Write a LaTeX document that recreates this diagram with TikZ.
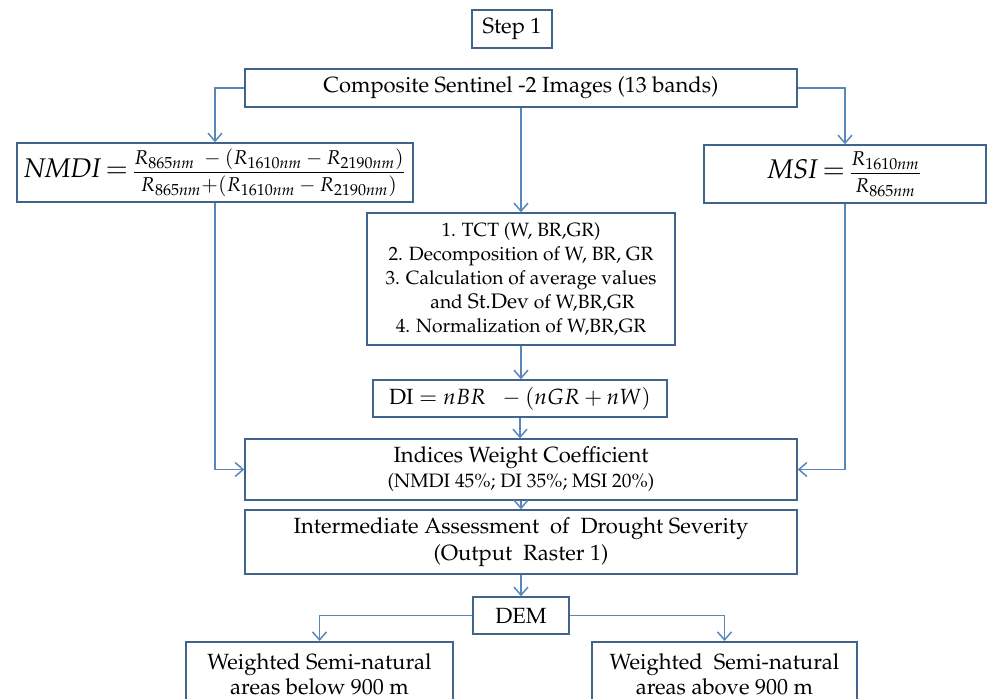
\documentclass[tikz,border=0pt]{standalone}
\usepackage[T1]{fontenc}
\usepackage{amsmath}
\usepackage{mathpazo}
\usetikzlibrary{arrows.meta}
\definecolor{boxline}{HTML}{41648C}
\definecolor{linkline}{HTML}{5A87B9}
\newcommand{\band}[1]{R_{\mbox{\fontsize{8}{9}\selectfont #1\textit{nm}}}}
\tikzset{
  box/.style={draw=boxline, line width=0.75pt, fill=white, align=center,
    inner sep=0pt, font=\fontsize{11}{13}\selectfont},
  link/.style={draw=linkline, line width=0.75pt,
    -{Straight Barb[length=4pt,width=7pt]}},
}
\begin{document}
\begin{tikzpicture}[x=0.5pt,y=-0.5pt]
\useasboundingbox (0,0) rectangle (989,698);

% boxes
\node[box, minimum width=40pt, minimum height=19pt] (step) at (512,29) {Step 1};
\node[box, minimum width=276pt, minimum height=19pt] (comp) at (521,88)
  {Composite Sentinel -2 Images (13 bands)};
\node[box, minimum width=198pt, minimum height=29.5pt] (nmdi) at (215,172.5)
  {{\fontsize{13.5}{16}\selectfont$\mathit{NMDI}\,{=}$}\,{\fontsize{10}{12}\selectfont
   $\dfrac{\band{865}\;-(\band{1610}-\band{2190})}{\band{865}{+}(\band{1610}-\band{2190})}$}};
\node[box, minimum width=141pt, minimum height=29pt] (msi) at (845,174)
  {{\fontsize{13.5}{16}\selectfont$\mathit{MSI}\,{=}$}\,{\fontsize{10}{12}\selectfont
   $\dfrac{\band{1610}}{\band{865}}$}};
\node[box, font=\fontsize{9.6}{12}\selectfont, minimum width=154pt, minimum height=66pt] (tct) at (521,279)
  {1. TCT (W, BR,GR)\\
   2. Decomposition of W, BR, GR\\
   3. Calculation of average values\\
   \hspace*{1.2em}and {\fontsize{10.5}{12}\selectfont St.Dev} of W,BR,GR\\
   4. Normalization of W,BR,GR};
\node[box, minimum width=147pt, minimum height=18.5pt] (di) at (520,398.5)
  {DI $=$ $nBR\;\;-(nGR+nW)$};
\node[box, font=\fontsize{11}{12.5}\selectfont, minimum width=276pt, minimum height=30.5pt] (iwc) at (521,469.5)
  {Indices Weight Coefficient\\{\fontsize{9.7}{11}\selectfont(NMDI 45\%; DI 35\%; MSI 20\%)}};
\node[box, font=\fontsize{11}{13.5}\selectfont, minimum width=276pt, minimum height=32pt] (iad) at (521,542)
  {Intermediate Assessment\ \ of\ \ Drought Severity\\(Output\ \ Raster 1)};
\node[box, minimum width=48pt, minimum height=18.5pt] (dem) at (521,615.5) {DEM};
\node[box, font=\fontsize{11}{12.5}\selectfont, anchor=north, minimum width=133.5pt, minimum height=32.5pt] (below) at (319.5,641)
  {Weighted Semi-natural\\areas below 900 m};
\node[box, font=\fontsize{11}{12.5}\selectfont, anchor=north, minimum width=132.5pt, minimum height=32.5pt] (above) at (724.5,641)
  {Weighted\ \ Semi-natural\\areas above 900 m};

% connectors
\draw[link] (comp.west) -| (nmdi.north);
\draw[link] (comp.east) -| (msi.north);
\draw[link] (comp.south) -- (comp.south |- tct.north);
\draw[link] (tct.south) -- (tct.south |- di.north);
\draw[link] (di.south) -- (di.south |- iwc.north);
\draw[link] (nmdi.south) |- (iwc.west);
\draw[link] (msi.south) |- (iwc.east);
\draw[link] (iwc.south) -- (iad.north);
\draw[link] (iad.south) -- (dem.north);
\draw[link] (dem.west) -| (below.north);
\draw[link] (dem.east) -| (above.north);
\end{tikzpicture}
\end{document}
